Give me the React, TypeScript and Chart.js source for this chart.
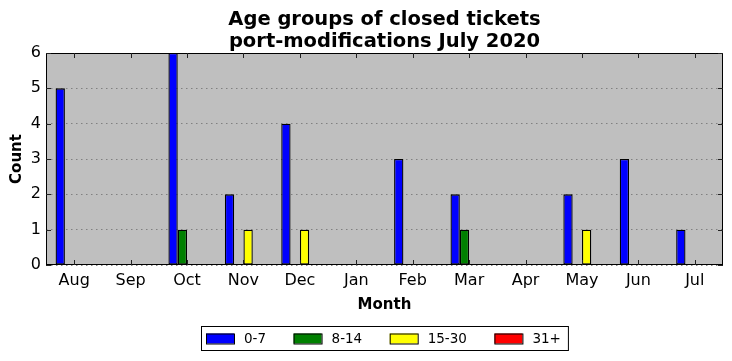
import React, { useEffect, useRef } from "react";
import { Chart, registerables } from "chart.js";

Chart.register(...registerables);

const months = ["Aug", "Sep", "Oct", "Nov", "Dec", "Jan", "Feb", "Mar", "Apr", "May", "Jun", "Jul"];
const age0to7 = [5, 0, 6, 2, 4, 0, 3, 2, 0, 2, 3, 1];
const age8to14 = [0, 0, 1, 0, 0, 0, 0, 1, 0, 0, 0, 0];
const age15to30 = [0, 0, 0, 1, 1, 0, 0, 0, 0, 1, 0, 0];
const age31plus = [0, 0, 0, 0, 0, 0, 0, 0, 0, 0, 0, 0];
const seriesLabels = ["0-7", "8-14", "15-30", "31+"];
const seriesColors = ["#0000ff", "#008000", "#ffff00", "#ff0000"];
const titleLines = ["Age groups of closed tickets", "port-modifications July 2020"];
const yTicks = [0, 1, 2, 3, 4, 5, 6];

const FONT = "'DejaVu Sans', sans-serif";

const framePlugin = {
  id: "framePlugin",
  beforeDraw(chart: any) {
    const { ctx, chartArea: a } = chart;
    ctx.save();
    ctx.fillStyle = "#bfbfbf";
    ctx.fillRect(a.left, a.top, a.right - a.left, a.bottom - a.top);
    ctx.restore();
  },
  afterDraw(chart: any) {
    const { ctx, chartArea: a } = chart;
    const xs = chart.scales.x;
    const ys = chart.scales.y;
    ctx.save();
    ctx.strokeStyle = "#000";
    ctx.lineWidth = 1;
    ctx.strokeRect(a.left + 0.5, a.top + 0.5, a.right - a.left - 1, a.bottom - a.top - 1);
    // inward ticks
    ctx.strokeStyle = "#222";
    const tl = 5;
    ctx.beginPath();
    months.forEach((_, i) => {
      const x = Math.round(xs.getPixelForValue(i)) + 0.5;
      ctx.moveTo(x, a.bottom);
      ctx.lineTo(x, a.bottom - tl);
      ctx.moveTo(x, a.top);
      ctx.lineTo(x, a.top + tl);
    });
    yTicks.forEach((v) => {
      const y = Math.round(ys.getPixelForValue(v)) + 0.5;
      ctx.moveTo(a.left, y);
      ctx.lineTo(a.left + tl, y);
      ctx.moveTo(a.right, y);
      ctx.lineTo(a.right - tl, y);
    });
    ctx.stroke();

    // legend
    ctx.font = `13.5px ${FONT}`;
    const patchW = 28;
    const patchH = 10;
    const gap = 10;
    const colSpace = 27.5;
    const padL = 5;
    const padR = 7;
    const widths = seriesLabels.map((l) => ctx.measureText(l).width);
    let total = padL + padR;
    widths.forEach((w, i) => {
      total += patchW + gap + w + (i < widths.length - 1 ? colSpace : 0);
    });
    const cx = (a.left + a.right) / 2;
    const left = Math.round(cx - total / 2);
    const top = 326;
    const h = 24;
    ctx.fillStyle = "#fff";
    ctx.fillRect(left, top, total, h);
    ctx.strokeStyle = "#000";
    ctx.strokeRect(left + 0.5, top + 0.5, total, h);
    let x = left + padL;
    const midY = top + h / 2 + 0.5;
    seriesLabels.forEach((l, i) => {
      ctx.fillStyle = seriesColors[i];
      ctx.fillRect(x, midY - patchH / 2, patchW, patchH);
      ctx.strokeStyle = "#000";
      ctx.strokeRect(x + 0.5, midY - patchH / 2 + 0.5, patchW, patchH);
      ctx.fillStyle = "#000";
      ctx.textBaseline = "middle";
      ctx.textAlign = "left";
      ctx.fillText(l, x + patchW + gap, midY + 0.5);
      x += patchW + gap + widths[i] + colSpace;
    });
    ctx.restore();
  },
};

export default function App() {
  const ref = useRef<HTMLCanvasElement | null>(null);
  useEffect(() => {
    document.body.style.margin = "0";
    const dataSeries = [age0to7, age8to14, age15to30, age31plus];
    const chart = new Chart(ref.current as HTMLCanvasElement, {
      type: "bar",
      data: {
        labels: months,
        datasets: dataSeries.map((d, i) => ({
          label: seriesLabels[i],
          data: d,
          backgroundColor: seriesColors[i],
          borderColor: "#000",
          borderWidth: 1.3,
          borderSkipped: false,
          categoryPercentage: 0.66,
          barPercentage: 1,
        })),
      },
      options: {
        animation: false,
        responsive: false,
        devicePixelRatio: 1,
        layout: { padding: { left: 0, right: 9, top: 0, bottom: 47 } },
        plugins: {
          legend: { display: false },
          tooltip: { enabled: false },
          title: {
            display: true,
            text: titleLines,
            fullSize: false,
            color: "#000",
            font: { family: FONT, size: 19.5, weight: "bold", lineHeight: "22px" },
            padding: { top: 9, bottom: 0 },
          },
        },
        scales: {
          x: {
            grid: { display: false, drawTicks: false },
            border: { display: false },
            ticks: { color: "#000", font: { family: FONT, size: 16 }, padding: 6 },
            title: {
              display: true,
              text: "Month",
              color: "#000",
              font: { family: FONT, size: 15, weight: "bold" },
              padding: { top: 0, bottom: 0 },
            },
            afterFit: (s: any) => {
              s.height = 49;
            },
          },
          y: {
            min: 0,
            max: 6,
            grid: { color: "#808080", lineWidth: 1, drawTicks: false },
            border: { display: false, dash: [1.5, 3.5] },
            ticks: { stepSize: 1, color: "#000", font: { family: FONT, size: 16 }, padding: 5 },
            title: {
              display: true,
              text: "Count",
              color: "#000",
              font: { family: FONT, size: 15, weight: "bold" },
              padding: { top: 8, bottom: 0 },
            },
            afterFit: (s: any) => {
              s.width = 46;
            },
          },
        },
      },
      plugins: [framePlugin],
    } as any);
    return () => chart.destroy();
  }, []);
  return (
    <div style={{ position: "absolute", left: 0, top: 0, width: 732, height: 361 }}>
      <canvas ref={ref} width={732} height={361} />
    </div>
  );
}
